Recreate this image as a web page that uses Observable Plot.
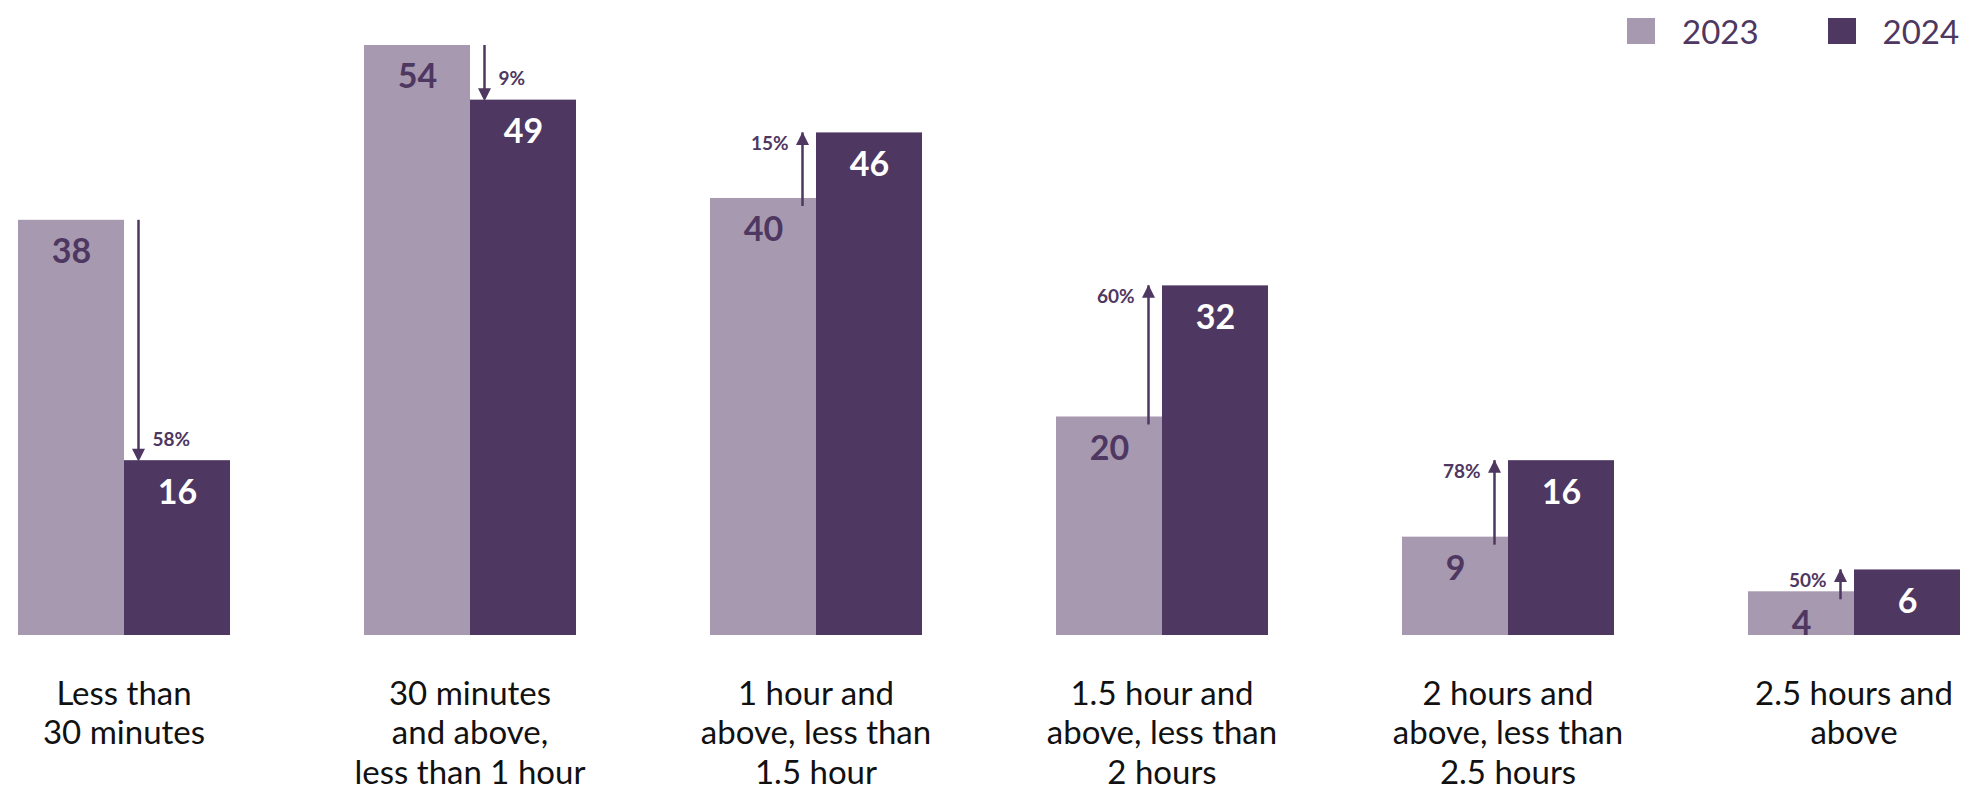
<!DOCTYPE html>
<html>
<head>
<meta charset="utf-8">
<script src="https://cdn.jsdelivr.net/npm/d3@7"></script>
<script src="https://cdn.jsdelivr.net/npm/@observablehq/plot@0.6"></script>
<style>
  html, body { margin: 0; padding: 0; background: #fff; }
  #wrap { position: relative; width: 1968px; height: 794px; font-family: Lato, "Open Sans", sans-serif; }
  #legend { position: absolute; left: 1627px; top: 11px; display: flex; align-items: center; color: #4e3761; font-size: 33px; font-family: Lato, sans-serif; }
  #legend .sw { width: 28px; height: 26px; display: inline-block; margin-right: 27px; }
  #legend .item { display: flex; align-items: center; margin-right: 69px; }
  #legend .item:last-child { margin-right: 0; }
</style>
</head>
<body>
<div id="wrap">
  <div id="chart"></div>
  <div id="legend"></div>
</div>
<script>
const categories = [
  "Less than\n30 minutes",
  "30 minutes\nand above,\nless than 1 hour",
  "1 hour and\nabove, less than\n1.5 hour",
  "1.5 hour and\nabove, less than\n2 hours",
  "2 hours and\nabove, less than\n2.5 hours",
  "2.5 hours and\nabove"
];
const years = ["2023", "2024"];
const values2023 = [38, 54, 40, 20, 9, 4];
const values2024 = [16, 49, 46, 32, 16, 6];
const changeLabels = ["58%", "9%", "15%", "60%", "78%", "50%"];

const colorLight = "#a79ab0";
const colorDark = "#4e3761";

const bars = [];
categories.forEach((c, i) => {
  bars.push({cat: c, year: "2023", value: values2023[i]});
  bars.push({cat: c, year: "2024", value: values2024[i]});
});
const changes = categories.map((c, i) => ({
  cat: c, v23: values2023[i], v24: values2024[i], pct: changeLabels[i]
}));
const ups = changes.filter(d => d.v24 > d.v23);
const downs = changes.filter(d => d.v24 < d.v23);

const upTri = {draw(ctx) { ctx.moveTo(0, -1); ctx.lineTo(-6.5, 12); ctx.lineTo(6.5, 12); ctx.closePath(); }};
const downTri = {draw(ctx) { ctx.moveTo(0, 1); ctx.lineTo(-6.5, -12); ctx.lineTo(6.5, -12); ctx.closePath(); }};

const font = "Lato, 'Open Sans', sans-serif";

const chart = Plot.plot({
  width: 1968,
  height: 794,
  marginLeft: 15,
  marginRight: 7,
  marginTop: 45,
  marginBottom: 159,
  style: {fontFamily: font, background: "#fff"},
  fx: {domain: categories, paddingInner: 0.385, paddingOuter: 0, label: null},
  x: {domain: years, padding: 0, axis: null},
  y: {domain: [0, 54], axis: null},
  color: {domain: years, range: [colorLight, colorDark]},
  marks: [
    Plot.barY(bars, {fx: "cat", x: "year", y: "value", fill: "year"}),
    Plot.text(bars.filter(d => d.year === "2023"), {fx: "cat", x: "year", y: "value", text: d => String(d.value), dy: 32, fill: colorDark, fontSize: 34, fontWeight: "bold"}),
    Plot.text(bars.filter(d => d.year === "2024"), {fx: "cat", x: "year", y: "value", text: d => String(d.value), dy: 32, fill: "#ffffff", fontSize: 34, fontWeight: "bold"}),
    // increase arrows (over the 2023 column, near the boundary)
    Plot.ruleX(ups, {fx: "cat", x: () => "2023", y1: "v23", y2: "v24", dx: 39, stroke: colorDark, strokeWidth: 2.5, insetTop: 8}),
    Plot.dot(ups, {fx: "cat", x: () => "2023", y: "v24", dx: 39, symbol: upTri, fill: colorDark, stroke: "none", r: 6}),
    Plot.text(ups, {fx: "cat", x: () => "2023", y: "v24", text: "pct", dx: 25, dy: 11, textAnchor: "end", fill: colorDark, fontSize: 19, fontWeight: "bold"}),
    // decrease arrows (over the 2024 column, near the boundary)
    Plot.ruleX(downs, {fx: "cat", x: () => "2024", y1: "v23", y2: "v24", dx: -39, stroke: colorDark, strokeWidth: 2.5, insetBottom: 8}),
    Plot.dot(downs, {fx: "cat", x: () => "2024", y: "v24", dx: -39, symbol: downTri, fill: colorDark, stroke: "none", r: 6}),
    Plot.text(downs, {fx: "cat", x: () => "2024", y: "v24", text: "pct", dx: -25, dy: -21, textAnchor: "start", fill: colorDark, fontSize: 19, fontWeight: "bold"}),
    Plot.axisFx({anchor: "bottom", tickSize: 0, tickPadding: 41, fontSize: 33, lineHeight: 1.2, label: null, fill: "#111111"})
  ]
});
document.getElementById("chart").appendChild(chart);

const legend = document.getElementById("legend");
years.forEach((y, i) => {
  const item = document.createElement("div");
  item.className = "item";
  const sw = document.createElement("span");
  sw.className = "sw";
  sw.style.background = i === 0 ? colorLight : colorDark;
  const t = document.createElement("span");
  t.textContent = y;
  item.appendChild(sw);
  item.appendChild(t);
  legend.appendChild(item);
});
</script>
</body>
</html>
